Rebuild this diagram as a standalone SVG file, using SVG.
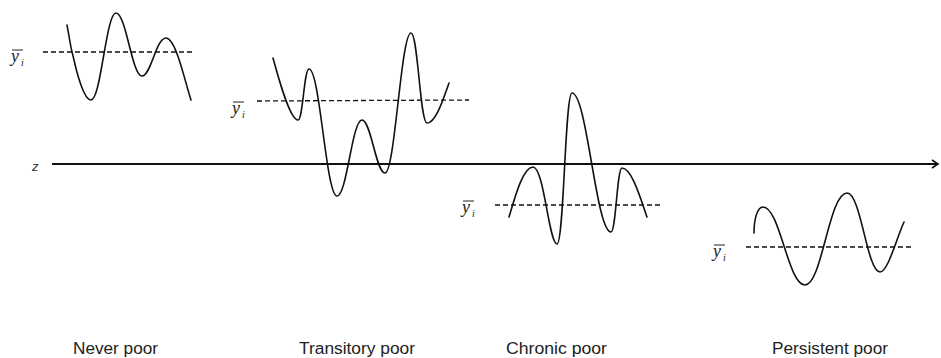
<svg xmlns="http://www.w3.org/2000/svg" width="941" height="358" viewBox="0 0 941 358">
<style>
.wave{fill:none;stroke:#111;stroke-width:1.6;stroke-linecap:round;stroke-linejoin:round}
.mean{fill:none;stroke:#111;stroke-width:1.3;stroke-dasharray:5 3}
.bar{stroke:#222;stroke-width:1}
.ysym{font-family:"Liberation Serif",serif;font-style:italic;font-size:18px;fill:#222}
.sub{font-family:"Liberation Serif",serif;font-style:italic;font-size:10px;fill:#222}
.cap{font-family:"Liberation Sans",Arial,sans-serif;font-size:16px;fill:#222}
.axis{fill:none;stroke:#111;stroke-width:2}
.zlab{font-family:"Liberation Sans",Arial,sans-serif;font-style:italic;font-size:13px;fill:#333}
</style>
<defs>
<marker id="arr" markerWidth="10" markerHeight="10" refX="7" refY="5" orient="auto" markerUnits="userSpaceOnUse">
<path d="M1,1 L7,5 L1,9" fill="none" stroke="#111" stroke-width="1.6"/>
</marker>
</defs>

<g id="connectors">
<line class="axis" x1="52" y1="164" x2="938" y2="164" marker-end="url(#arr)"/>
<text class="zlab" x="32" y="171">z</text>
</g>

<g id="never-poor">
<line class="mean" x1="43" y1="52" x2="194" y2="52"/>
<path class="wave" d="M67,25 C70,45 81,100 91,100 C101,100 106,13 116,13 C126,13 132,76 142,76 C151,76 156,38 166,38 C176,38 185,82 191,100"/>
<line class="bar" x1="12" y1="50" x2="23" y2="50"/>
<text class="ysym" x="11" y="62">y</text>
<text class="sub" x="21" y="66">i</text>
<text class="cap" x="73" y="354" textLength="85" lengthAdjust="spacingAndGlyphs">Never poor</text>
</g>

<g id="transitory-poor">
<line class="mean" x1="257" y1="101" x2="469" y2="100"/>
<path class="wave" d="M273,58 C279,80 290,120 298,120 C303,120 304,69 309,69 C320,69 326,196 337,196 C347,196 352,120 362,120 C371,120 376,173 385,173 C395,173 401,33 411,33 C418,33 420,123 427,123 C436,123 444,97 449,83"/>
<line class="bar" x1="233" y1="102" x2="244" y2="102"/>
<text class="ysym" x="232" y="114">y</text>
<text class="sub" x="242" y="118">i</text>
<text class="cap" x="299" y="354" textLength="116" lengthAdjust="spacingAndGlyphs">Transitory poor</text>
</g>

<g id="chronic-poor">
<line class="mean" x1="495" y1="205" x2="660" y2="205"/>
<path class="wave" d="M509,217 C515,197 523,167 533,167 C544,167 549,244 557,244 C564,244 565,93 572,93 C587,93 596,232 611,232 C616,232 617,168 622,168 C632,168 641,200 647,217"/>
<line class="bar" x1="463" y1="201" x2="474" y2="201"/>
<text class="ysym" x="462" y="213">y</text>
<text class="sub" x="472" y="217">i</text>
<text class="cap" x="506" y="354" textLength="101" lengthAdjust="spacingAndGlyphs">Chronic poor</text>
</g>

<g id="persistent-poor">
<line class="mean" x1="746" y1="247" x2="912" y2="247"/>
<path class="wave" d="M754,233 C754,220 757,207 763,207 C780,207 788,285 805,285 C822,285 829,193 847,193 C861,193 867,272 880,272 C888,272 897,237 904,222"/>
<line class="bar" x1="714" y1="245" x2="725" y2="245"/>
<text class="ysym" x="713" y="257">y</text>
<text class="sub" x="723" y="261">i</text>
<text class="cap" x="772" y="354" textLength="116" lengthAdjust="spacingAndGlyphs">Persistent poor</text>
</g>
</svg>
